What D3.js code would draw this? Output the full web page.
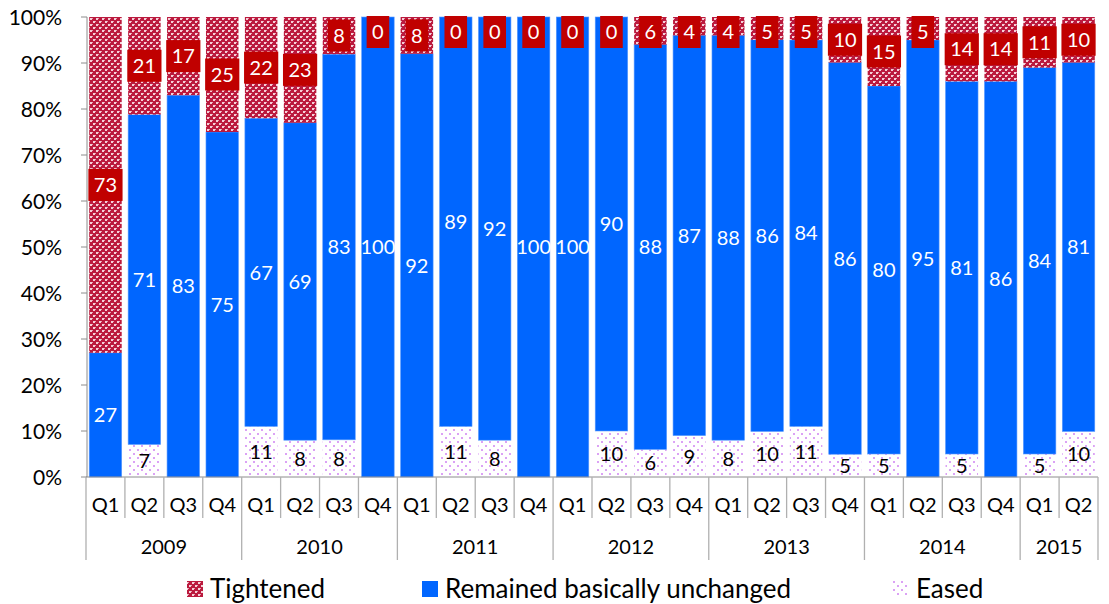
<!DOCTYPE html>
<html><head><meta charset="utf-8">
<script src="https://cdn.jsdelivr.net/npm/d3@7"></script>
<style>body{margin:0;background:#fff} svg{font-family:Lato,"Open Sans",sans-serif}</style>
</head><body><svg id="c" width="1109" height="604"></svg>
<script>
const years = ["2009","2010","2011","2012","2013","2014","2015"];
const yearCounts = [4,4,4,4,4,4,2];
const quarterNames = ["Q1","Q2","Q3","Q4"];
const tightened = [73,21,17,25,22,23,8,0,8,0,0,0,0,0,6,4,4,5,5,10,15,5,14,14,11,10];
const unchanged = [27,71,83,75,67,69,83,100,92,89,92,100,100,90,88,87,88,86,84,86,80,95,81,86,84,81];
const eased = [0,7,0,0,11,8,8,0,0,11,8,0,0,10,6,9,8,10,11,5,5,0,5,0,5,10];
const yTicks = [0,0.1,0.2,0.3,0.4,0.5,0.6,0.7,0.8,0.9,1];
const seriesNames = ["Tightened","Remained basically unchanged","Eased"];

const cats = [];
years.forEach((y,i)=>{ for(let q=0;q<yearCounts[i];q++) cats.push({id:y+"-"+quarterNames[q], year:y, q:quarterNames[q]}); });
const rows = cats.map((c,i)=>({id:c.id, eased:eased[i], unchanged:unchanged[i], tightened:tightened[i]}));

const svg = d3.select("#c");
const x0 = 86, x1 = 1098, yTop = 17, yBot = 477;
const x = d3.scaleBand().domain(cats.map(c=>c.id)).range([x0,x1]).paddingInner(0.165).paddingOuter(0.0825);
const y = d3.scaleLinear().domain([0,1]).range([yBot,yTop]);

const defs = svg.append("defs");
const pt = defs.append("pattern").attr("id","pTight").attr("patternUnits","userSpaceOnUse").attr("width",6).attr("height",6);
pt.append("rect").attr("width",6).attr("height",6).attr("fill","#bb1a3e");
pt.append("rect").attr("x",0).attr("y",0).attr("width",2).attr("height",2).attr("fill","#f5d0d8");
pt.append("rect").attr("x",3).attr("y",3).attr("width",2).attr("height",2).attr("fill","#f5d0d8");
pt.append("rect").attr("x",2).attr("y",0).attr("width",1).attr("height",1).attr("fill","#e6a0b0");
pt.append("rect").attr("x",5).attr("y",3).attr("width",1).attr("height",1).attr("fill","#e6a0b0");
const pe = defs.append("pattern").attr("id","pEase").attr("patternUnits","userSpaceOnUse").attr("width",8).attr("height",8);
pe.append("rect").attr("width",8).attr("height",8).attr("fill","#ffffff");
pe.append("rect").attr("x",1).attr("y",1).attr("width",2).attr("height",2).attr("fill","#dba2f5");
pe.append("rect").attr("x",5).attr("y",5).attr("width",2).attr("height",2).attr("fill","#dba2f5");

const keys = ["eased","unchanged","tightened"];
const fills = {eased:"url(#pEase)", unchanged:"#0066ff", tightened:"url(#pTight)"};
const stack = d3.stack().keys(keys).offset(d3.stackOffsetExpand);
const series = stack(rows);

series.forEach(s=>{
  svg.append("g").selectAll("rect").data(s).join("rect")
    .attr("x",d=>x(d.data.id)).attr("width",x.bandwidth())
    .attr("y",d=>y(d[1])).attr("height",d=>Math.max(0,y(d[0])-y(d[1])))
    .attr("fill",fills[s.key])
    .attr("stroke", s.key==="unchanged" ? "#5a9bff" : "none").attr("stroke-width",0.6);
});

const axisColor = "#8c8c8c";
svg.append("line").attr("x1",x0+1).attr("x2",x0+1).attr("y1",yTop).attr("y2",yBot).attr("stroke",axisColor);
svg.append("g").selectAll("line").data(yTicks).join("line")
  .attr("x1",x0-5).attr("x2",x0+1).attr("y1",d=>y(d)).attr("y2",d=>y(d)).attr("stroke",axisColor);
svg.append("g").selectAll("text").data(yTicks).join("text")
  .attr("x",62).attr("y",d=>y(d)).attr("dy","0.36em").attr("text-anchor","end")
  .attr("font-size",21).attr("fill","#000").text(d=>d3.format(".0%")(d));

svg.append("line").attr("x1",x0).attr("x2",x1).attr("y1",yBot).attr("y2",yBot).attr("stroke",axisColor);
const step = x.step();
const bounds = d3.range(cats.length+1).map(i=>x0+i*step);
const yearStart = [0]; yearCounts.forEach((c,i)=>yearStart.push(yearStart[i]+c));
svg.append("g").selectAll("line").data(bounds).join("line")
  .attr("x1",d=>d).attr("x2",d=>d).attr("y1",yBot)
  .attr("y2",(d,i)=> yearStart.includes(i) ? 560 : 518)
  .attr("stroke","#b0b0b0").attr("stroke-width",1.3);
svg.append("g").selectAll("text").data(cats).join("text")
  .attr("x",d=>x(d.id)+x.bandwidth()/2).attr("y",505).attr("dy","0.36em").attr("text-anchor","middle")
  .attr("font-size",20).text(d=>d.q);
svg.append("g").selectAll("text").data(years).join("text")
  .attr("x",(d,i)=>(bounds[yearStart[i]]+bounds[yearStart[i+1]])/2).attr("y",547).attr("dy","0.36em").attr("text-anchor","middle")
  .attr("font-size",20).text(d=>d);

const lab = svg.append("g").attr("font-size",20);
series.forEach(s=>{
  s.forEach((d,i)=>{
    const v = d.data[s.key];
    const cx = x(d.data.id)+x.bandwidth()/2;
    let cy = (y(d[0])+y(d[1]))/2;
    if (s.key==="eased") {
      if (v===0) return;
      lab.append("text").attr("x",cx).attr("y",cy).attr("dy","0.36em").attr("text-anchor","middle").attr("fill","#000").text(v);
    } else if (s.key==="unchanged") {
      lab.append("text").attr("x",cx).attr("y",cy).attr("dy","0.36em").attr("text-anchor","middle").attr("fill","#fff").text(v);
    } else {
      cy = Math.max(cy, y(1)+15);
      const t = lab.append("text").attr("x",cx).attr("y",cy).attr("dy","0.36em").attr("text-anchor","middle").attr("fill","#fff").text(v);
      const w = t.node().getComputedTextLength()+11;
      lab.insert("rect",()=>t.node()).attr("x",cx-w/2).attr("y",cy-16).attr("width",w).attr("height",32).attr("fill","#c00000");
    }
  });
});

const legend = [
  {name:seriesNames[0], fill:"url(#pTight)", sx:187, tx:210},
  {name:seriesNames[1], fill:"#0066ff", sx:422, tx:445},
  {name:seriesNames[2], fill:"url(#pEase)", sx:893, tx:916}
];
const lg = svg.append("g");
legend.forEach(l=>{
  lg.append("rect").attr("x",l.sx).attr("y",581).attr("width",16).attr("height",16).attr("fill",l.fill);
  lg.append("text").attr("x",l.tx).attr("y",589).attr("dy","0.36em").attr("font-size",26).text(l.name);
});
</script></body></html>
